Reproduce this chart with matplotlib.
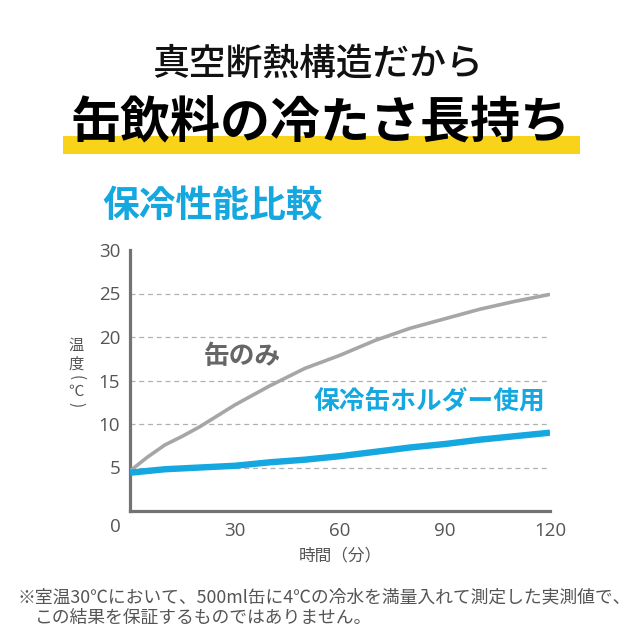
import matplotlib
matplotlib.use("Agg")
import matplotlib.pyplot as plt
from matplotlib.patches import Rectangle

plt.rcParams['font.family'] = ['Noto Sans CJK JP', 'DejaVu Sans']

# ---- data ----
minutes_can = [0, 5, 10, 15, 20, 30, 40, 50, 60, 70, 80, 90, 100, 110, 120]
temp_can = [4.6, 6.2, 7.6, 8.6, 9.7, 12.2, 14.4, 16.4, 17.9, 19.6, 21.0, 22.1, 23.2, 24.1, 24.9]
minutes_holder = [0, 10, 20, 30, 40, 50, 60, 70, 80, 90, 100, 110, 120]
temp_holder = [4.4, 4.8, 5.0, 5.2, 5.6, 5.9, 6.3, 6.8, 7.3, 7.7, 8.2, 8.6, 9.0]
x_ticks = [30, 60, 90, 120]
y_ticks = [5, 10, 15, 20, 25, 30]
grid_levels = [5, 10, 15, 20, 25]
label_can = "缶のみ"
label_holder = "保冷缶ホルダー使用"
heading1 = "真空断熱構造だから"
heading2 = "缶飲料の冷たさ長持ち"
chart_title = "保冷性能比較"
x_label = "時間（分）"
y_label_chars = ["温", "度", "(", "℃", ")"]
footnote1 = "※室温30℃において、500ml缶に4℃の冷水を満量入れて測定した実測値で、"
footnote2 = "この結果を保証するものではありません。"

BLUE = "#14a7e0"
GRAY_LINE = "#a6a6a6"
AXIS = "#737373"
TEXT_GRAY = "#555555"
NUM_FONT = ['Open Sans', 'DejaVu Sans']

W = H = 640
fig = plt.figure(figsize=(6.4, 6.4), dpi=100)
fig.patch.set_facecolor("white")

def fx(px):
    return px / W

def fy(py):
    return 1 - py / H

# yellow highlight band
fig.patches.append(Rectangle((fx(63), fy(154)), fx(580) - fx(63), (154 - 136) / H,
                             transform=fig.transFigure, facecolor="#f8d31a",
                             edgecolor="none", zorder=0))

fig.text(fx(318), fy(64), heading1, ha="center", va="center", fontsize=26.5,
         color="#111111", fontweight="medium", zorder=2)
fig.text(fx(320), fy(124), heading2, ha="center", va="center", fontsize=36,
         color="#000000", fontweight="bold", zorder=2)
fig.text(fx(102), fy(206), chart_title, ha="left", va="center", fontsize=26.5,
         color=BLUE, fontweight="bold")

# axes
left, right, bottom, top = 130, 550, 511, 250
ax = fig.add_axes([fx(left), fy(bottom), (right - left) / W, (bottom - top) / H])
ax.set_xlim(0, 120)
ax.set_ylim(0, 30)
for s in ["top", "right"]:
    ax.spines[s].set_visible(False)
for s in ["left", "bottom"]:
    ax.spines[s].set_color(AXIS)
    ax.spines[s].set_linewidth(2.3)
    ax.spines[s].set_capstyle("projecting")

for g in grid_levels:
    ax.axhline(g, color="#b0b0b0", linewidth=0.9, linestyle=(0, (4, 3)), zorder=1)

ax.plot(minutes_can, temp_can, color=GRAY_LINE, linewidth=2.6, zorder=3,
        solid_capstyle="butt", solid_joinstyle="round")
ax.plot(minutes_holder, temp_holder, color=BLUE, linewidth=4.6, zorder=4,
        solid_capstyle="butt", solid_joinstyle="round")

ax.set_xticks(x_ticks)
ax.set_yticks(y_ticks)
ax.set_xticklabels([str(v) for v in x_ticks], family=NUM_FONT)
ax.set_yticklabels([str(v) for v in y_ticks], family=NUM_FONT)
ax.tick_params(axis="both", length=0, labelsize=13.5, colors=TEXT_GRAY)
ax.tick_params(axis="x", pad=8)
ax.tick_params(axis="y", pad=7)
ax.annotate("0", xy=(0, 0), xytext=(-15, -16), textcoords="offset pixels",
            ha="center", va="center", fontsize=13.5, color=TEXT_GRAY,
            family=NUM_FONT, annotation_clip=False)

ax.text(21, 17.8, label_can, ha="left", va="center", fontsize=18.5,
        fontweight="bold", color="#666666")
ax.text(52.5, 12.6, label_holder, ha="left", va="center", fontsize=18.5,
        fontweight="bold", color=BLUE)

fig.text(fx(340), fy(556), x_label, ha="center", va="center", fontsize=12,
         color=TEXT_GRAY)

# vertical y-axis label (stacked characters, parentheses turned sideways)
y_label_pos = [345, 364, 377.5, 391, 405]
for ch, py in zip(y_label_chars, y_label_pos):
    rot = -90 if ch in "()" else 0
    fig.text(fx(76), fy(py), ch, ha="center", va="center", rotation=rot,
             rotation_mode="anchor", fontsize=11, color=TEXT_GRAY)

fig.text(fx(17), fy(597), footnote1, ha="left", va="center", fontsize=12.8,
         color=TEXT_GRAY)
fig.text(fx(35), fy(618), footnote2, ha="left", va="center", fontsize=12.8,
         color=TEXT_GRAY)

fig.savefig("out.png", dpi=100, facecolor="white")
